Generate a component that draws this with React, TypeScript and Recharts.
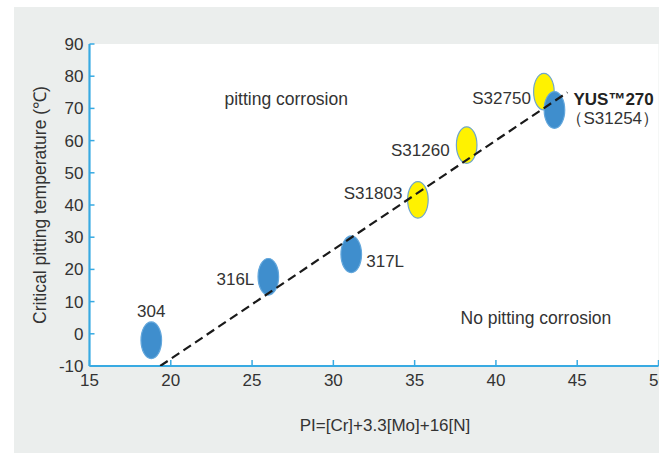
import React from 'react';
import { ScatterChart, Scatter, XAxis, YAxis, CartesianGrid } from 'recharts';

// ---- data ----
const steelNames = ['304', '316L', '317L', 'S31803', 'S31260', 'S32750', 'YUS™270'];
const piValues = [18.8, 26.0, 31.1, 35.2, 38.2, 42.95, 43.6];
const cptValues = [-2, 17.7, 24.7, 41.6, 58.6, 75.2, 69.5];
const steelGroup = ['blue', 'blue', 'blue', 'yellow', 'yellow', 'yellow', 'blue'];
const yusUnsNumber = '（S31254）';

const trendPi = [19.35, 44.4];
const trendCpt = [-10, 75];

const regionLabels = ['pitting corrosion', 'No pitting corrosion'];
const regionPi = [27.1, 42.46];
const regionCpt = [72.9, 4.9];

const xTicks = [15, 20, 25, 30, 35, 40, 45, 50];
const yTicks = [-10, 0, 10, 20, 30, 40, 50, 60, 70, 80, 90];

const xTitle = 'PI=[Cr]+3.3[Mo]+16[N]';
const yTitle = 'Critical pitting temperature (℃)';

// ---- tables for the library ----
const steelData = steelNames.map((name, i) => ({
  name,
  pi: piValues[i],
  cpt: cptValues[i],
  group: steelGroup[i],
}));
const trendData = trendPi.map((pi, i) => ({ pi, cpt: trendCpt[i] }));
const regionData = regionLabels.map((label, i) => ({ label, pi: regionPi[i], cpt: regionCpt[i] }));

// ---- styles ----
const FONT = '"Liberation Sans", Arial, Helvetica, sans-serif';
const TEXT = '#333333';
const FRAME = '#38aae2';
const fills: Record<string, { fill: string; stroke: string }> = {
  blue: { fill: '#3f8ecd', stroke: '#63a7dc' },
  yellow: { fill: '#fff200', stroke: '#6fa6cc' },
};
const labelPlacement: Record<string, { dx: number; dy: number; anchor: 'start' | 'middle' | 'end'; bold?: boolean }> = {
  '304': { dx: 0, dy: -29, anchor: 'middle' },
  '316L': { dx: -14, dy: 2.5, anchor: 'end' },
  '317L': { dx: 15, dy: 7, anchor: 'start' },
  'S31803': { dx: -15.5, dy: -6, anchor: 'end' },
  'S31260': { dx: -17, dy: 5.5, anchor: 'end' },
  'S32750': { dx: -13, dy: 7, anchor: 'end' },
  'YUS™270': { dx: 19, dy: -11, anchor: 'start', bold: true },
};

const SteelShape = (props: any) => {
  const { cx, cy, payload } = props;
  if (cx == null || cy == null) return null;
  const c = fills[payload.group];
  const p = labelPlacement[payload.name];
  return (
    <g>
      <ellipse cx={cx} cy={cy} rx={10.3} ry={18.3} fill={c.fill} stroke={c.stroke} strokeWidth={1.2} />
      <text
        x={cx + p.dx}
        y={cy + p.dy}
        textAnchor={p.anchor}
        dominantBaseline="central"
        fontFamily={FONT}
        fontSize={17}
        fontWeight={p.bold ? 'bold' : 'normal'}
        fill={p.bold ? '#222' : TEXT}
      >
        {payload.name}
      </text>
      {p.bold ? (
        <text
          x={cx + 12}
          y={cy + 8.5}
          textAnchor="start"
          dominantBaseline="central"
          fontFamily={FONT}
          fontSize={17}
          fill={TEXT}
        >
          {yusUnsNumber}
        </text>
      ) : null}
    </g>
  );
};

const RegionShape = (props: any) => {
  const { cx, cy, payload } = props;
  if (cx == null || cy == null) return null;
  return (
    <text x={cx} y={cy} textAnchor="middle" dominantBaseline="central" fontFamily={FONT} fontSize={17.5} fill={TEXT}>
      {payload.label}
    </text>
  );
};

const NoShape = () => null;

const tickStyle = { fontFamily: FONT, fontSize: 17, fill: TEXT };

export default function App() {
  return (
    <div style={{ position: 'absolute', left: 0, top: 0, width: 659, height: 455, background: '#fff' }}>
      <div style={{ position: 'absolute', left: 14, top: 7, width: 645, height: 446, background: '#ebeeed' }} />
      <div style={{ position: 'absolute', left: 0, top: 0 }}>
        <ScatterChart width={659} height={455} margin={{ top: 44, right: 0.5, bottom: 0, left: 0 }}>
          <CartesianGrid horizontal={false} vertical={false} fill="#ffffff" />
          <XAxis
            xAxisId="top"
            orientation="top"
            type="number"
            dataKey="pi"
            domain={[15, 50]}
            height={0}
            tick={false}
            tickLine={false}
            axisLine={{ stroke: FRAME, strokeWidth: 1.5 }}
          />
          <YAxis
            yAxisId="right"
            orientation="right"
            type="number"
            dataKey="cpt"
            domain={[-10, 90]}
            width={0}
            tick={false}
            tickLine={false}
            axisLine={{ stroke: FRAME, strokeWidth: 1.2 }}
          />
          <XAxis
            type="number"
            dataKey="pi"
            domain={[15, 50]}
            ticks={xTicks}
            interval={0}
            height={89}
            tickSize={-6}
            tickMargin={14}
            tick={tickStyle}
            tickLine={{ stroke: FRAME, strokeWidth: 1.5 }}
            axisLine={{ stroke: FRAME, strokeWidth: 2.2 }}
            allowDataOverflow
            label={{ value: xTitle, position: 'center', dx: 11, dy: 14, style: { fontFamily: FONT, fontSize: 17, fill: TEXT } }}
          />
          <YAxis
            type="number"
            dataKey="cpt"
            domain={[-10, 90]}
            ticks={yTicks}
            interval={0}
            width={89.5}
            tickSize={-5}
            tickMargin={11}
            tick={tickStyle}
            tickLine={{ stroke: FRAME, strokeWidth: 1.5 }}
            axisLine={{ stroke: FRAME, strokeWidth: 2.2 }}
            allowDataOverflow
            label={{ value: yTitle, position: 'center', angle: -90, dx: -5, style: { fontFamily: FONT, fontSize: 17.5, fill: TEXT, textAnchor: 'middle' } }}
          />
          <Scatter data={regionData} shape={RegionShape} isAnimationActive={false} />
          <Scatter data={steelData} shape={SteelShape} isAnimationActive={false} />
          <Scatter
            data={trendData}
            shape={NoShape}
            line={{ stroke: '#1a1a1a', strokeWidth: 2.2, strokeDasharray: '9 5' }}
            isAnimationActive={false}
          />
        </ScatterChart>
      </div>
    </div>
  );
}
